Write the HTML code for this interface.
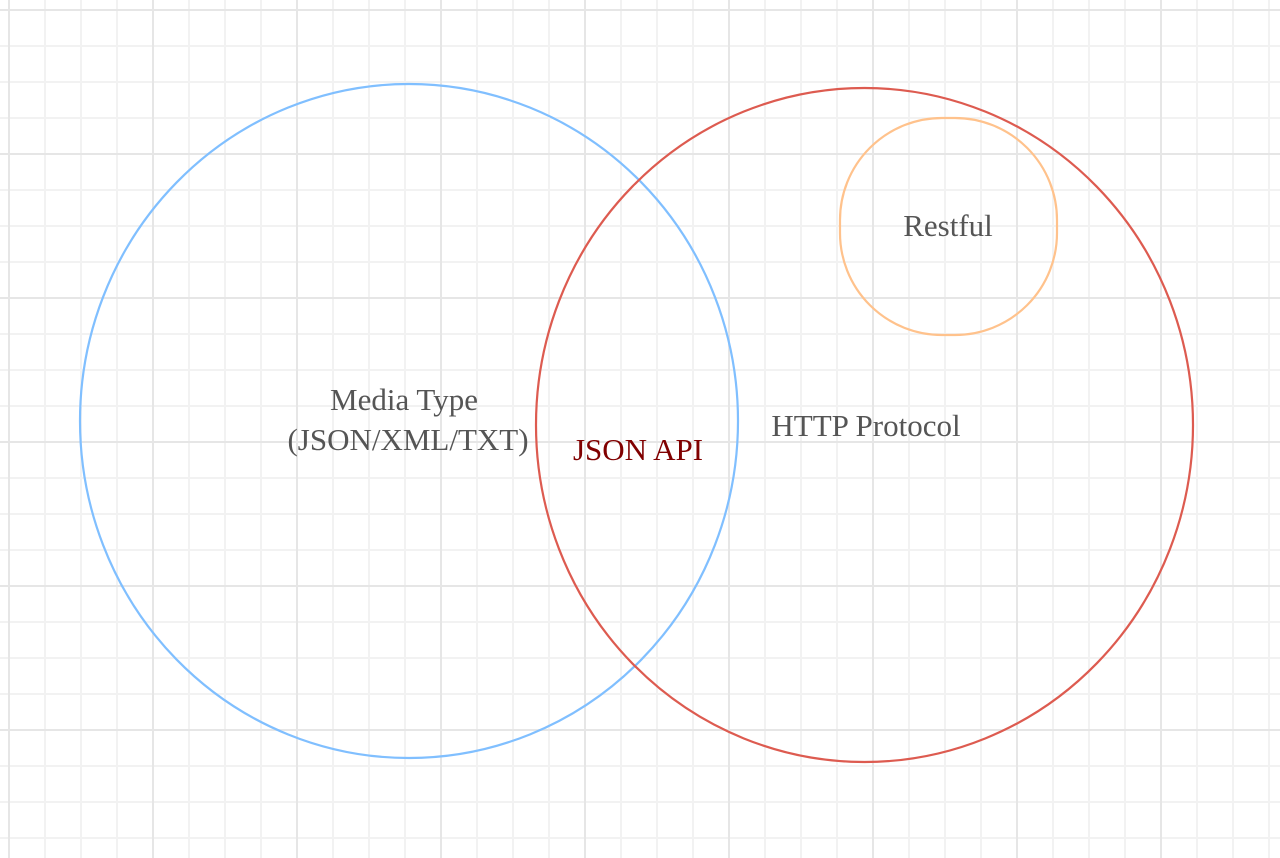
<!DOCTYPE html>
<html><head><meta charset="utf-8"><style>
html,body{margin:0;padding:0;background:#fff;}
svg{display:block}
text{font-family:"Liberation Serif",serif;font-size:31px;fill:#555;}
</style></head><body>
<svg width="1280" height="858" viewBox="0 0 1280 858" xmlns="http://www.w3.org/2000/svg">
<defs>
<pattern id="minor" x="8" y="9" width="36" height="36" patternUnits="userSpaceOnUse">
<rect x="0" y="0" width="36" height="2" fill="#f2f2f2"/>
<rect x="0" y="0" width="2" height="36" fill="#f2f2f2"/>
</pattern>
<pattern id="major" x="8" y="9" width="144" height="144" patternUnits="userSpaceOnUse">
<rect x="0" y="0" width="144" height="2" fill="#e6e6e6"/>
<rect x="0" y="0" width="2" height="144" fill="#e6e6e6"/>
</pattern>
</defs>
<rect width="1280" height="858" fill="url(#minor)"/>
<rect width="1280" height="858" fill="url(#major)"/>
<ellipse cx="409" cy="421" rx="329" ry="337" fill="none" stroke="#80bfff" stroke-width="2.2"/>
<ellipse cx="864.5" cy="425" rx="328.5" ry="337" fill="none" stroke="#dd5b50" stroke-width="2.2"/>
<rect x="840" y="118" width="217" height="217" rx="102" ry="102" fill="none" stroke="#ffc28c" stroke-width="2.2"/>
<text x="404" y="410" text-anchor="middle">Media Type</text>
<text x="408" y="450" text-anchor="middle">(JSON/XML/TXT)</text>
<text x="638" y="460" text-anchor="middle" style="fill:#800000">JSON API</text>
<text x="866" y="436" text-anchor="middle">HTTP Protocol</text>
<text x="948" y="236" text-anchor="middle">Restful</text>
</svg>
</body></html>
